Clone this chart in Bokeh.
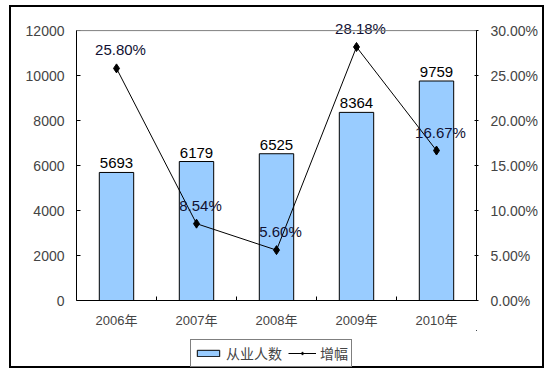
from bokeh.plotting import figure
from bokeh.layouts import column
from bokeh.models import (Range1d, LinearAxis, FixedTicker, NumeralTickFormatter,
                          ColumnDataSource, Legend, LegendItem, Span)
from bokeh.core.properties import value
from bokeh.embed import file_html
from bokeh.resources import INLINE

years = ["2006年", "2007年", "2008年", "2009年", "2010年"]
employees = [5693, 6179, 6525, 8364, 9759]
growth = [0.2580, 0.0854, 0.0560, 0.2818, 0.1667]
left_ticks = [0, 2000, 4000, 6000, 8000, 10000, 12000]
right_ticks = [0.0, 0.05, 0.10, 0.15, 0.20, 0.25, 0.30]
series_names = ["从业人数", "增幅"]

FONT = "Liberation Sans"
MIXED = "'Liberation Sans', 'Noto Sans CJK SC'"
CJK = "Noto Sans CJK SC"

BAR_STYLE = dict(fill_color="#99CCFF", line_color="black", line_width=1)
LINE_STYLE = dict(line_color="black", line_width=1)
MARK_STYLE = dict(marker="diamond", size=9, fill_color="black", line_color="black")

# headroom above the axis maximum so that labels are not clipped
HEAD = 282 / 268
left_max = left_ticks[-1]
right_max = right_ticks[-1]

xs = [i + 0.5 for i in range(len(years))]
src = ColumnDataSource(dict(
    x=xs, emp=employees, g=growth,
    emp_lbl=[str(v) for v in employees],
    g_lbl=["%.2f%%" % (v * 100) for v in growth],
))

p = figure(width=535, height=325, output_backend="svg", toolbar_location=None,
           x_range=Range1d(0, len(years)), y_range=Range1d(0, left_max * HEAD),
           min_border_left=65, min_border_right=70, min_border_top=9,
           min_border_bottom=32)
p.styles = {"border": "2px solid black", "border-bottom": "none"}
p.extra_y_ranges = {"pct": Range1d(0, right_max * HEAD)}
p.grid.visible = False
p.outline_line_color = None

p.add_layout(Span(location=left_max, dimension="width", line_color="#808080",
                  line_width=1))

# Bars
p.vbar(x="x", top="emp", width=0.43, source=src, **BAR_STYLE)

# Line + markers
p.line(x="x", y="g", source=src, y_range_name="pct", **LINE_STYLE)
p.scatter(x="x", y="g", source=src, y_range_name="pct", **MARK_STYLE)

# Labels
p.text(x="x", y="emp", text="emp_lbl", source=src, text_align="center",
       text_baseline="bottom", y_offset=-4, text_font=value(FONT),
       text_font_size="15px", text_color="black")
p.text(x="x", y="g", text="g_lbl", source=src, y_range_name="pct",
       text_align="center", text_baseline="bottom", x_offset=4, y_offset=-10,
       text_font=value(FONT), text_font_size="15px", text_color="#111133")

# Axes
p.xaxis.ticker = FixedTicker(ticks=xs, minor_ticks=list(range(1, len(years))))
p.xaxis.major_label_overrides = {x: y for x, y in zip(xs, years)}
p.xaxis.major_tick_line_color = None
p.xaxis.minor_tick_in = 4
p.xaxis.minor_tick_out = 0
p.xaxis.minor_tick_line_color = "black"
p.xaxis.major_label_text_font = MIXED
p.xaxis.major_label_text_font_size = "13px"
p.xaxis.major_label_standoff = 6
p.xaxis.axis_line_color = "black"

p.yaxis.ticker = FixedTicker(ticks=left_ticks)
p.yaxis.bounds = (0, left_max)
p.yaxis.major_tick_in = 4
p.yaxis.major_tick_out = 0
p.yaxis.minor_tick_line_color = None
p.yaxis.major_label_text_font = FONT
p.yaxis.major_label_text_font_size = "14px"
p.yaxis.major_label_standoff = 12
p.yaxis.axis_line_color = "black"

ra = LinearAxis(y_range_name="pct", ticker=FixedTicker(ticks=right_ticks),
                formatter=NumeralTickFormatter(format="0.00%"),
                bounds=(0, right_max))
ra.major_tick_in = 2
ra.major_tick_out = 2
ra.minor_tick_line_color = None
ra.major_label_text_font = FONT
ra.major_label_text_font_size = "14px"
ra.major_label_standoff = 12
p.add_layout(ra, "right")

# Legend strip (separate figure below the chart); its ranges keep the
# series themselves out of view, so only the legend is visible.
lp = figure(width=535, height=38, output_backend="svg", toolbar_location=None,
            x_range=Range1d(-2, -1), y_range=Range1d(-2, -1),
            x_axis_location=None, y_axis_location=None,
            min_border_left=0, min_border_right=0, min_border_top=0,
            min_border_bottom=0)
lp.styles = {"border": "2px solid black", "border-top": "none"}
lp.grid.visible = False
lp.outline_line_color = None
lb = lp.vbar(x="x", top="emp", width=0.43, source=src, **BAR_STYLE)
ll = lp.line(x="x", y="g", source=src, **LINE_STYLE)
lm = lp.scatter(x="x", y="g", source=src, **MARK_STYLE)

legend = Legend(items=[LegendItem(label=series_names[0], renderers=[lb]),
                       LegendItem(label=series_names[1], renderers=[ll, lm])],
                orientation="horizontal", location=(114, 1),
                label_text_font=CJK, label_text_font_size="14px",
                border_line_color="black", border_line_width=1,
                glyph_width=28, glyph_height=8, spacing=6, padding=3,
                label_standoff=4, margin=0, background_fill_alpha=1)
lp.add_layout(legend, "center")

layout = column(p, lp, spacing=0)
layout.styles = {"margin-left": "9px", "margin-top": "5px"}

open("out.html", "w").write(file_html(layout, INLINE))
